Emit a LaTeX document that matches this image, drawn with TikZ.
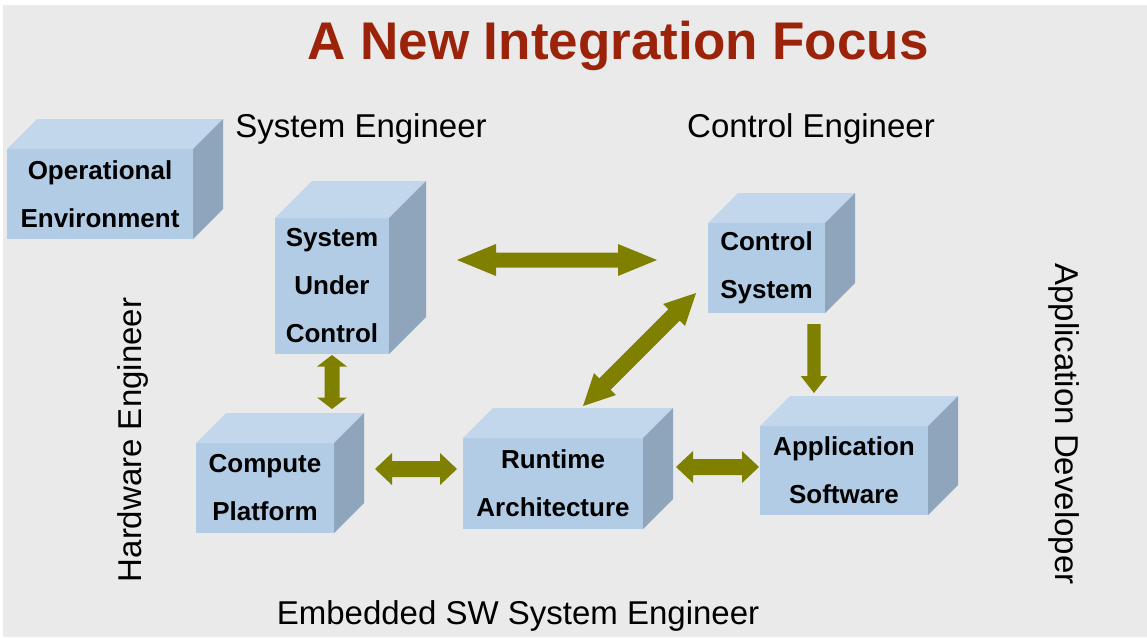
\documentclass[tikz,border=0pt]{standalone}
\usepackage{fontspec}
\setmainfont{Liberation Sans}
\usetikzlibrary{calc}

\definecolor{pagegray}{HTML}{EAEAEA}
\definecolor{facefront}{HTML}{B2CCE5}
\definecolor{facetop}{HTML}{C2D7EB}
\definecolor{faceside}{HTML}{8EA5BB}
\definecolor{arrowolive}{HTML}{808000}
\definecolor{titlered}{HTML}{9B230A}

% Cube: #1 name, #2 left, #3 top, #4 right, #5 bottom (front face), #6 depth, #7 label
\newcommand\cubeblock[7]{%
  \node[frontface, minimum width={(#4-#2)*1pt}, minimum height={(#5-#3)*1pt}]
    (#1) at ({(#2+#4)/2},{(#3+#5)/2}) {};
  \fill[facetop] (#1.north west) -- ++(#6,-#6) -- ($(#1.north east)+(#6,-#6)$)
    -- (#1.north east) -- cycle;
  \fill[faceside] (#1.north east) -- ++(#6,-#6) -- ($(#1.south east)+(#6,-#6)$)
    -- (#1.south east) -- cycle;
  \node[boxtext] (#1-label) at (#1.center) {#7};
}

% Double-headed block arrow: #1,#2 ends, #3 half shaft, #4 half head, #5 head length
\newcommand\twoheaded[5]{%
  \path ($(#1)!#5!(#2)$) coordinate (#1-h) ($(#2)!#5!(#1)$) coordinate (#2-h);
  \fill[arrowolive] (#1) -- ($(#1-h)!#4!90:(#2)$) -- ($(#1-h)!#3!90:(#2)$)
    -- ($(#2-h)!#3!-90:(#1)$) -- ($(#2-h)!#4!-90:(#1)$) -- (#2)
    -- ($(#2-h)!#4!90:(#1)$) -- ($(#2-h)!#3!90:(#1)$)
    -- ($(#1-h)!#3!-90:(#2)$) -- ($(#1-h)!#4!-90:(#2)$) -- cycle;
}

% Single-headed block arrow from #1 to #2
\newcommand\oneheaded[5]{%
  \path ($(#2)!#5!(#1)$) coordinate (#2-h);
  \fill[arrowolive] ($(#1)!#3!90:(#2)$)
    -- ($(#2-h)!#3!-90:(#1)$) -- ($(#2-h)!#4!-90:(#1)$) -- (#2)
    -- ($(#2-h)!#4!90:(#1)$) -- ($(#2-h)!#3!90:(#1)$)
    -- ($(#1)!#3!-90:(#2)$) -- cycle;
}

\tikzset{
  frontface/.style={fill=facefront, inner sep=0pt, outer sep=0pt},
  boxtext/.style={align=center, inner sep=0pt,
    font=\fontsize{26}{48}\selectfont\bfseries},
  rolelabel/.style={inner sep=0pt, anchor=base, font=\fontsize{33}{40}\selectfont},
}

\begin{document}
\begin{tikzpicture}[x=1pt, y=-1pt]
  \useasboundingbox (0,0) rectangle (1147,637);
  \fill[white] (0,0) rectangle (1147,637);
  \fill[pagegray] (3,5) rectangle (1147,637);

  % title
  \node[inner sep=0pt, anchor=base, text=titlered,
    font=\fontsize{53}{60}\selectfont\bfseries] (title) at (618,59)
    {A New Integration Focus};

  % roles
  \node[rolelabel] (syseng) at (361,137) {System Engineer};
  \node[rolelabel] (ctrleng) at (811,137) {Control Engineer};
  \node[rolelabel] (embeng) at (518,624) {Embedded SW System Engineer};
  \node[rolelabel, rotate=90] (hweng) at (141,440) {Hardware Engineer};
  \node[rolelabel, rotate=-90] (appdev) at (1055,424) {Application Developer};

  % blocks
  \cubeblock{openv}{7}{149}{193}{239}{30}{Operational\\Environment}
  \cubeblock{suc}{275}{218}{389}{354}{37}{System\\Under\\Control}
  \cubeblock{compute}{196}{443}{334}{533}{30}{Compute\\Platform}
  \cubeblock{runtime}{463}{438}{643}{529}{30}{Runtime\\Architecture}
  \cubeblock{ctrl}{708}{223}{825}{313}{30}{Control\\System}
  \cubeblock{app}{760}{426}{928}{515}{30}{Application\\Software}

  % arrow ends
  \coordinate (sucR) at (457,260);
  \coordinate (ctrlL) at (657,260);
  \coordinate (sucB) at (332,355);
  \coordinate (compT) at (332,409);
  \coordinate (compR) at (375,469);
  \coordinate (rtL) at (457,469);
  \coordinate (rtR) at (676,467);
  \coordinate (appL) at (759,467);
  \coordinate (rtT) at (583,406);
  \coordinate (ctrlBL) at (696,293);
  \coordinate (ctrlB) at (814,324);
  \coordinate (appT) at (814,393);

  % connectors
  \twoheaded{sucR}{ctrlL}{7.5pt}{16pt}{39pt}
  \twoheaded{sucB}{compT}{7.5pt}{15pt}{11.5pt}
  \twoheaded{compR}{rtL}{8pt}{16pt}{17pt}
  \twoheaded{rtR}{appL}{8pt}{16pt}{17pt}
  \twoheaded{rtT}{ctrlBL}{8pt}{15.5pt}{31pt}
  \oneheaded{ctrlB}{appT}{6.7pt}{13.3pt}{17pt}
\end{tikzpicture}
\end{document}
